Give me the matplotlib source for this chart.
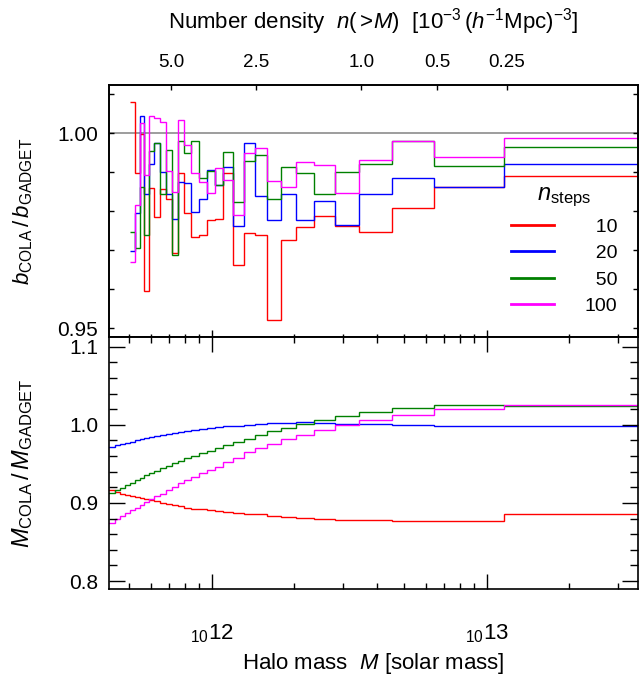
import numpy as np
import matplotlib
matplotlib.use('Agg')
import matplotlib.pyplot as plt
from matplotlib.ticker import FixedLocator, FixedFormatter, NullLocator, FormatStrFormatter

plt.rcParams['font.family'] = 'Liberation Sans'
plt.rcParams['mathtext.fontset'] = 'custom'
plt.rcParams['mathtext.rm'] = 'Liberation Sans'
plt.rcParams['mathtext.it'] = 'Liberation Sans:italic'
plt.rcParams['mathtext.bf'] = 'Liberation Sans:bold'

# Halo mass bin edges [10^12 solar mass]
edges = [0.505, 0.526, 0.549, 0.569, 0.593, 0.618, 0.649, 0.684, 0.717, 0.752,
         0.795, 0.841, 0.899, 0.959, 1.028, 1.102, 1.198, 1.311, 1.437, 1.585,
         1.782, 2.021, 2.355, 2.808, 3.433, 4.513, 6.449, 11.59, 40.0]
# extra low-mass bins shown only in the mass ratio panel
edges_low = [0.40, 0.445, 0.464, 0.484]

nsteps = ['10', '20', '50', '100']
colors = ['#ff0000', '#0000ff', '#008000', '#ff00ff']

# bias ratio b_COLA / b_GADGET
bias_10 = [1.0079, 0.9899, 0.9998, 0.9595, 0.986, 0.9786, 0.9858, 0.9832, 0.9692, 0.9897,
           0.9795, 0.9733, 0.9739, 0.9777, 0.9779, 0.9897, 0.9662, 0.9743, 0.9738, 0.952,
           0.9726, 0.9759, 0.9788, 0.9763, 0.9748, 0.9808, 0.9861, 0.9891]
bias_20 = [0.9697, 0.9795, 1.0045, 0.9844, 0.9922, 0.9976, 0.99, 0.9844, 0.9779, 0.9874,
           0.9872, 0.9797, 0.9831, 0.9905, 0.9867, 0.9913, 0.9761, 0.9976, 0.984, 0.9778,
           0.9845, 0.9778, 0.9826, 0.9765, 0.9844, 0.9886, 0.9861, 0.992]
bias_50 = [0.9748, 0.9705, 0.9863, 0.9739, 0.9955, 0.9976, 0.9844, 0.9957, 0.9687, 0.9981,
           0.995, 0.9979, 0.9885, 0.9903, 0.9868, 0.9953, 0.9823, 0.9929, 0.9944, 0.9832,
           0.9913, 0.9897, 0.9845, 0.99, 0.9921, 0.9979, 0.9917, 0.9964]
bias_100 = [0.9671, 0.9816, 1.0027, 0.9893, 1.0043, 1.004, 1.0028, 0.9902, 0.9849, 1.0034,
            0.997, 0.9897, 0.9876, 0.9848, 0.9912, 0.9879, 0.9791, 0.9949, 0.9962, 0.9877,
            0.9862, 0.9927, 0.9918, 0.9846, 0.9932, 0.9981, 0.994, 0.9987]

# mass ratio M_COLA / M_GADGET (first 4 values are the extra low-mass bins)
mass_10 = [0.9165, 0.914, 0.9118, 0.9097,
           0.9085, 0.907, 0.906, 0.905, 0.9037, 0.9022, 0.9005, 0.899, 0.8975, 0.8955,
           0.894, 0.8928, 0.8917, 0.8905, 0.8895, 0.8885, 0.8874, 0.8863, 0.8855, 0.8833,
           0.882, 0.8807, 0.8794, 0.8786, 0.8785, 0.8774, 0.8769, 0.8864]
mass_20 = [0.9715, 0.9735, 0.9752, 0.9769,
           0.9785, 0.98, 0.9815, 0.983, 0.9845, 0.9858, 0.9872, 0.9885, 0.9898, 0.991,
           0.9922, 0.9935, 0.9948, 0.996, 0.997, 0.998, 0.999, 1.0001, 1.0014, 1.0023,
           1.0027, 1.0031, 1.0023, 1.0014, 1.0005, 1.0, 0.998, 0.9983]
mass_50 = [0.9128, 0.9163, 0.9197, 0.9227,
           0.9256, 0.9291, 0.932, 0.9351, 0.9381, 0.941, 0.9441, 0.947, 0.9505, 0.9538,
           0.9569, 0.9603, 0.9633, 0.9667, 0.9705, 0.974, 0.9774, 0.982, 0.9864, 0.9915,
           0.9962, 1.0008, 1.006, 1.0111, 1.016, 1.021, 1.0259, 1.0242]
mass_100 = [0.8749, 0.879, 0.8828, 0.8868,
            0.8905, 0.894, 0.8975, 0.901, 0.9045, 0.9082, 0.912, 0.916, 0.9208, 0.926,
            0.9295, 0.9335, 0.9378, 0.942, 0.9465, 0.9518, 0.9578, 0.9646, 0.9705, 0.9753,
            0.9813, 0.9869, 0.9932, 0.9997, 1.0056, 1.0124, 1.0197, 1.0256]

# number density n(>M) [10^-3 (h^-1 Mpc)^-3] and the mass where it is reached [10^12]
nd_labels = ['5.0', '2.5', '1.0', '0.5', '0.25']
nd_mass = [0.714, 1.449, 3.505, 6.6, 11.85]

mass_ticks = [1e12, 1e13]
mass_ticklabels = [r'${}_{10}\mathregular{12}$', r'${}_{10}\mathregular{13}$']

bias = [bias_10, bias_20, bias_50, bias_100]
mratio = [mass_10, mass_20, mass_50, mass_100]

e_top = np.array(edges) * 1e12
e_bot = np.array(edges_low + edges) * 1e12
xlim = (4.243e11, 3.55e13)

fig = plt.figure(figsize=(6.44, 6.77), dpi=100)
ax1 = fig.add_axes([0.1697, 0.5018, 0.821, 0.3727])
ax2 = fig.add_axes([0.1697, 0.13, 0.821, 0.3718])

# top panel: bias ratio
ax1.axhline(1.0, color='0.55', lw=1.2, zorder=1)
for vals, c, lab in zip(bias, colors, nsteps):
    ax1.stairs(vals, e_top, baseline=None, color=c, lw=1.0, label='  ' + lab if len(lab) == 2 else lab)
ax1.set_xscale('log')
ax1.set_xlim(xlim)
ax1.set_ylim(0.94769, 1.01238)
ax1.xaxis.set_major_locator(FixedLocator(mass_ticks))
ax1.xaxis.set_minor_locator(FixedLocator([k * 10.0**d for d in (11, 12, 13) for k in range(2, 10)]))
ax1.tick_params(axis='x', which='both', direction='in', top=False, bottom=True, labelbottom=False)
ax1.tick_params(axis='x', which='major', length=5, width=1)
ax1.tick_params(axis='x', which='minor', length=2.5, width=1)
ax1.yaxis.set_major_locator(FixedLocator([0.95, 1.00]))
ax1.yaxis.set_minor_locator(FixedLocator(np.arange(0.95, 1.0101, 0.01)))
ax1.yaxis.set_major_formatter(FormatStrFormatter('%.2f'))
ax1.tick_params(axis='y', which='both', direction='in', left=True, right=True, length=3.6, width=1)
ax1.tick_params(axis='y', labelsize=15, pad=8)
ax1.set_ylabel(r'$b_{\mathrm{COLA}}\,/\,b_{\mathrm{GADGET}}$', fontsize=16)
ax1.yaxis.set_label_coords(-0.14, 0.5)

leg = ax1.legend(title=r'$n_{\mathrm{steps}}$', frameon=False, fontsize=14, title_fontsize=17,
                 loc='upper left', bbox_to_anchor=(0.745, 0.64), handlelength=2.2,
                 handletextpad=1.6, labelspacing=0.45, borderaxespad=0)
for h in leg.legend_handles:
    h.set_linewidth(2.0)

# number density axis on top
axt = ax1.twiny()
axt.set_xscale('log')
axt.set_xlim(xlim)
axt.xaxis.set_major_locator(FixedLocator(np.array(nd_mass) * 1e12))
axt.xaxis.set_major_formatter(FixedFormatter(nd_labels))
axt.xaxis.set_minor_locator(NullLocator())
axt.tick_params(axis='x', direction='in', length=3.6, width=1, labelsize=13.5, pad=10)
fig.text(0.58, 1 - 22 / 677, r'Number density  $n(>\!M)$  [$10^{-3}\,(h^{-1}\mathrm{Mpc})^{-3}$]',
         ha='center', va='center', fontsize=16)

# bottom panel: mass ratio
for vals, c in zip(mratio, colors):
    ax2.stairs(vals, e_bot, baseline=None, color=c, lw=1.0)
ax2.set_xscale('log')
ax2.set_xlim(xlim)
ax2.set_ylim(0.7898, 1.112)
ax2.xaxis.set_major_locator(FixedLocator(mass_ticks))
ax2.xaxis.set_major_formatter(FixedFormatter(mass_ticklabels))
ax2.xaxis.set_minor_locator(FixedLocator([k * 10.0**d for d in (11, 12, 13) for k in range(2, 10)]))
ax2.xaxis.set_minor_formatter(FixedFormatter([]))
ax2.tick_params(axis='x', which='both', direction='in', top=True, bottom=True)
ax2.tick_params(axis='x', which='major', length=11, width=1, labelsize=16, pad=24)
ax2.tick_params(axis='x', which='minor', length=4.5, width=1)
ax2.yaxis.set_major_locator(FixedLocator([0.8, 0.9, 1.0, 1.1]))
ax2.yaxis.set_minor_locator(FixedLocator(np.arange(0.8, 1.1001, 0.02)))
ax2.yaxis.set_major_formatter(FormatStrFormatter('%.1f'))
ax2.tick_params(axis='y', which='both', direction='in', left=True, right=True, width=1)
ax2.tick_params(axis='y', which='major', length=11.5, labelsize=15, pad=8)
ax2.tick_params(axis='y', which='minor', length=5.8)
ax2.set_ylabel(r'$M_{\mathrm{COLA}}\,/\,M_{\mathrm{GADGET}}$', fontsize=17)
ax2.yaxis.set_label_coords(-0.14, 0.5)
fig.text(373 / 644, 1 - 663 / 677, r'Halo mass  $M$ [solar mass]', ha='center', va='center', fontsize=16)

for ax in (ax1, ax2, axt):
    for s in ax.spines.values():
        s.set_linewidth(1.2)

fig.savefig('out.png', dpi=100)
